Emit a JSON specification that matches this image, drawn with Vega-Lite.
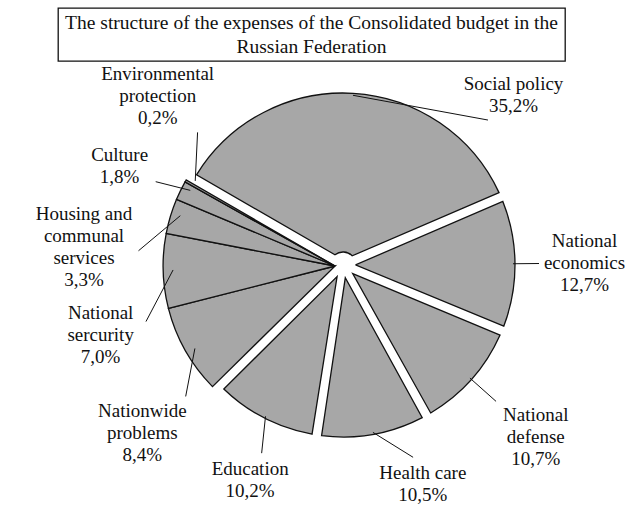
{
  "$schema": "https://vega.github.io/schema/vega-lite/v6.json",
  "padding": {"left": 35, "top": 7, "right": 0, "bottom": 0},
  "bounds": "flush",
  "spacing": 0,
  "config": {"view": {"stroke": null}, "font": "Liberation Serif"},
  "vconcat": [
    {
      "width": 507,
      "height": 53,
      "view": {"stroke": "#111111", "strokeWidth": 1.3},
      "data": {"values": [{"title": "The structure of the expenses of the Consolidated budget in the\nRussian Federation"}]},
      "mark": {"type": "text", "font": "Liberation Serif", "fontSize": 19.5, "lineHeight": 24, "lineBreak": "\n", "baseline": "middle", "dy": -12, "color": "#111111"},
      "encoding": {"text": {"field": "title"}}
    },
    {
      "width": 570,
      "height": 408,
      "data": {
        "values": [
          {"category": "Social policy", "label": "Social policy", "value": 35.2},
          {"category": "National economics", "label": "National\neconomics", "value": 12.7},
          {"category": "National defense", "label": "National\ndefense", "value": 10.7},
          {"category": "Health care", "label": "Health care", "value": 10.5},
          {"category": "Education", "label": "Education", "value": 10.2},
          {"category": "Nationwide problems", "label": "Nationwide\nproblems", "value": 8.4},
          {"category": "National sercurity", "label": "National\nsercurity", "value": 7.0},
          {"category": "Housing and communal services", "label": "Housing and\ncommunal\nservices", "value": 3.3},
          {"category": "Culture", "label": "Culture", "value": 1.8},
          {"category": "Environmental protection", "label": "Environmental\nprotection", "value": 0.2}
        ]
      },
      "transform": [
        {"stack": "value", "groupby": [], "as": ["v0", "v1"]},
        {"window": [{"op": "row_number", "as": "idx"}]},
        {"calculate": "(datum.v0 + datum.v1) / 2", "as": "mid"},
        {"calculate": "-60 + 3.6 * datum.mid", "as": "mdeg"},
        {"calculate": "datum.mdeg < 45 ? 45 : (datum.mdeg > 160 && datum.mdeg < 180) ? 160 : (datum.mdeg >= 180 && datum.mdeg < 200) ? 200 : datum.mdeg", "as": "mc"},
        {"calculate": "datum.mc - 20 * datum.idx", "as": "u"},
        {"window": [{"op": "max", "field": "u", "as": "umax"}], "frame": [null, 0], "sort": [{"field": "idx"}]},
        {"window": [{"op": "min", "field": "u", "as": "umin"}], "frame": [0, null], "sort": [{"field": "idx"}]},
        {"calculate": "datum.mdeg * PI / 180", "as": "amid"},
        {"calculate": "(20 * datum.idx + (datum.umax + datum.umin) / 2) * PI / 180", "as": "al"},
        {"calculate": "split(datum.label, '\\n')", "as": "lines"},
        {"calculate": "datum.label + '\\n' + replace(format(datum.value, '.1f'), '.', ',') + '%'", "as": "txt"},
        {"calculate": "length(datum.lines) + 1", "as": "nl"},
        {"calculate": "4.5 * max(length(datum.lines[0]), length(datum.lines[1] || ''), length(datum.lines[2] || ''), 5)", "as": "halfW"},
        {"calculate": "datum.nl * 11", "as": "halfH"},
        {"calculate": "210 + min(datum.halfW / max(abs(sin(datum.al)), 0.01), datum.halfH / max(abs(cos(datum.al)), 0.01))", "as": "lr"},
        {"calculate": "min(285 + datum.lr * sin(datum.al), 567 - datum.halfW)", "as": "xl"},
        {"calculate": "min(max(204 - datum.lr * cos(datum.al) - (datum.nl - 1) * 11, 13), 456 - datum.nl * 22)", "as": "yl"},
        {"calculate": "datum.yl + (datum.nl - 1) * 11", "as": "yc"},
        {"calculate": "sqrt(pow(285 - datum.xl, 2) + pow(204 - datum.yc, 2))", "as": "dl"},
        {"calculate": "(285 - datum.xl) / datum.dl", "as": "ux"},
        {"calculate": "(204 - datum.yc) / datum.dl", "as": "uy"},
        {"calculate": "min(datum.halfW / max(abs(datum.ux), 0.001), datum.halfH / max(abs(datum.uy), 0.001)) + 5", "as": "te"},
        {"calculate": "285 + 170 * sin(datum.amid)", "as": "xs"},
        {"calculate": "204 - 170 * cos(datum.amid)", "as": "ys"},
        {"calculate": "datum.xl + datum.ux * datum.te", "as": "xe"},
        {"calculate": "datum.yc + datum.uy * datum.te", "as": "ye"}
      ],
      "layer": [
        {
          "transform": [{"filter": "datum.idx <= 5"}],
          "mark": {"type": "arc", "padAngle": 0.056, "innerRadius": 13, "outerRadius": 172, "fill": "#a7a7a7", "stroke": "#111111", "strokeWidth": 1.3},
          "encoding": {
            "theta": {"field": "v0", "type": "quantitative", "scale": {"domain": [0, 100], "range": [-1.0472, 5.236]}},
            "theta2": {"field": "v1"}
          }
        },
        {
          "transform": [{"filter": "datum.idx >= 6"}],
          "mark": {"type": "arc", "innerRadius": 0, "outerRadius": 172, "xOffset": -7.9, "yOffset": 1.0, "fill": "#a7a7a7", "stroke": "#111111", "strokeWidth": 1.3},
          "encoding": {
            "theta": {"field": "v0", "type": "quantitative", "scale": {"domain": [0, 100], "range": [-1.0472, 5.236]}},
            "theta2": {"field": "v1"}
          }
        },
        {
          "mark": {"type": "rule", "stroke": "#111111", "strokeWidth": 1},
          "encoding": {
            "x": {"field": "xs", "type": "quantitative", "scale": null},
            "y": {"field": "ys", "type": "quantitative", "scale": null},
            "x2": {"field": "xe"},
            "y2": {"field": "ye"}
          }
        },
        {
          "mark": {"type": "text", "font": "Liberation Serif", "fontSize": 19, "lineHeight": 22, "lineBreak": "\n", "align": "center", "baseline": "middle", "color": "#111111"},
          "encoding": {
            "x": {"field": "xl", "type": "quantitative", "scale": null},
            "y": {"field": "yl", "type": "quantitative", "scale": null},
            "text": {"field": "txt"}
          }
        }
      ]
    }
  ]
}
